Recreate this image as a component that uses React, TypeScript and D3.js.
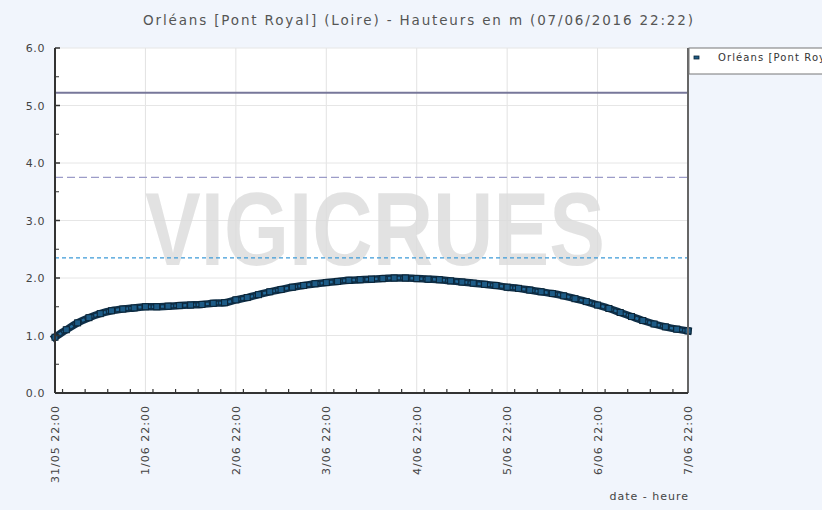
import React, { useEffect, useRef } from "react";
import * as d3 from "d3";

// Hauteurs relevées toutes les 3 heures à partir du 31/05 22:00
const START = new Date(2016, 4, 31, 22, 0);
const STEP_HOURS = 3;
const heights = [
  0.97, 1.1, 1.22, 1.31, 1.38, 1.43, 1.46, 1.48,
  1.5, 1.5, 1.51, 1.52, 1.53, 1.54, 1.56, 1.57,
  1.62, 1.66, 1.71, 1.76, 1.8, 1.84, 1.87, 1.9,
  1.92, 1.94, 1.96, 1.97, 1.98, 1.99, 2.0, 2.0,
  1.99, 1.98, 1.97, 1.95, 1.93, 1.91, 1.89, 1.87,
  1.84, 1.82, 1.79, 1.76, 1.73, 1.69, 1.64, 1.59,
  1.53, 1.47, 1.4, 1.33, 1.26, 1.2, 1.15, 1.11,
  1.08,
];

const yTicks = [0, 1, 2, 3, 4, 5, 6];
const yMinorTicks = [0.5, 1.5, 2.5, 3.5, 4.5, 5.5];
const dayLabels = [
  "31/05 22:00", "1/06 22:00", "2/06 22:00", "3/06 22:00",
  "4/06 22:00", "5/06 22:00", "6/06 22:00", "7/06 22:00",
];

// seuils horizontaux
const thresholds = [
  { value: 5.22, color: "#77779a", dash: null, width: 2 },
  { value: 3.75, color: "#9c9cc8", dash: "8,4", width: 1.2 },
  { value: 2.35, color: "#3d9ad8", dash: "4,3", width: 1.2 },
];

const title = "Orléans [Pont Royal] (Loire) - Hauteurs en m (07/06/2016 22:22)";
const legendLabel = "Orléans [Pont Royal] (Loire)";

const App = () => {
  const svgRef = useRef<SVGSVGElement>(null);

  useEffect(() => {
    const width = 822;
    const height = 510;
    const margin = { top: 48, right: 134, bottom: 117, left: 55 };

    const svg = d3.select(svgRef.current);
    svg.selectAll("*").remove();
    svg.attr("width", width).attr("height", height).style("font-family", "DejaVu Sans, sans-serif");

    svg.append("rect").attr("width", width).attr("height", height).attr("fill", "#f1f5fc");

    const data = heights.map((v, i) => ({
      date: d3.timeHour.offset(START, i * STEP_HOURS),
      value: v,
    }));
    const end = d3.timeDay.offset(START, 7);

    const x = d3.scaleTime().domain([START, end]).range([margin.left, width - margin.right]);
    const y = d3.scaleLinear().domain([0, 6]).range([height - margin.bottom, margin.top]);

    const [x0, x1] = x.range();
    const [y0, y1] = y.range();

    // zone de tracé
    svg.append("rect")
      .attr("x", x0).attr("y", y1)
      .attr("width", x1 - x0).attr("height", y0 - y1)
      .attr("fill", "#ffffff");

    // titre
    svg.append("text")
      .attr("x", 143).attr("y", 25)
      .attr("font-size", 13.5)
      .attr("textLength", 550)
      .attr("lengthAdjust", "spacing")
      .attr("fill", "#555")
      .text(title);

    // grille
    const days = d3.range(8).map((d) => d3.timeDay.offset(START, d));
    svg.append("g").selectAll("line.v").data(days).join("line")
      .attr("x1", (d) => x(d)).attr("x2", (d) => x(d))
      .attr("y1", y1).attr("y2", y0)
      .attr("stroke", "#e2e2e2").attr("stroke-width", 1);
    svg.append("g").selectAll("line.h").data(yTicks).join("line")
      .attr("x1", x0).attr("x2", x1)
      .attr("y1", (d) => y(d)).attr("y2", (d) => y(d))
      .attr("stroke", "#e6e6e6").attr("stroke-width", 1);

    // filigrane
    svg.append("text")
      .attr("x", 145).attr("y", 265)
      .attr("font-family", "Liberation Sans, Arial, sans-serif")
      .attr("font-weight", "bold")
      .attr("font-size", 104)
      .attr("textLength", 460)
      .attr("lengthAdjust", "spacingAndGlyphs")
      .attr("fill", "#dcdcdc")
      .attr("opacity", 0.8)
      .text("VIGICRUES");

    // seuils
    svg.append("g").selectAll("line").data(thresholds).join("line")
      .attr("x1", x0).attr("x2", x1)
      .attr("y1", (d) => y(d.value)).attr("y2", (d) => y(d.value))
      .attr("stroke", (d) => d.color)
      .attr("stroke-width", (d) => d.width)
      .attr("stroke-dasharray", (d) => d.dash);

    // série
    const line = d3.line<{ date: Date; value: number }>()
      .x((d) => x(d.date)).y((d) => y(d.value))
      .curve(d3.curveMonotoneX);
    svg.append("path").datum(data)
      .attr("d", line).attr("fill", "none")
      .attr("stroke", "#0e2f48").attr("stroke-width", 7.5)
      .attr("stroke-linecap", "square");
    svg.append("path").datum(data)
      .attr("d", line).attr("fill", "none")
      .attr("stroke", "#236a9a").attr("stroke-width", 2.5)
      .attr("stroke-dasharray", "3,1.5");
    svg.append("g").selectAll("rect").data(data).join("rect")
      .attr("x", (d) => x(d.date) - 3).attr("y", (d) => y(d.value) - 3)
      .attr("width", 6).attr("height", 6)
      .attr("fill", "#1d5b86").attr("stroke", "#0b2436").attr("stroke-width", 1);

    // axe Y
    const yAxis = svg.append("g");
    yAxis.append("line").attr("x1", x0).attr("x2", x0).attr("y1", y1).attr("y2", y0)
      .attr("stroke", "#333").attr("stroke-width", 2);
    yAxis.selectAll("line.t").data(yTicks).join("line")
      .attr("x1", x0).attr("x2", x0 + 5)
      .attr("y1", (d) => y(d)).attr("y2", (d) => y(d))
      .attr("stroke", "#333").attr("stroke-width", 1.5);
    yAxis.selectAll("line.m").data(yMinorTicks).join("line")
      .attr("x1", x0).attr("x2", x0 + 4)
      .attr("y1", (d) => y(d)).attr("y2", (d) => y(d))
      .attr("stroke", "#333").attr("stroke-width", 1);
    yAxis.selectAll("text").data(yTicks).join("text")
      .attr("x", 45).attr("y", (d) => y(d) + 4)
      .attr("text-anchor", "end")
      .attr("font-size", 11)
      .attr("letter-spacing", 0.6)
      .attr("fill", "#444")
      .text((d) => d3.format(".1f")(d));

    // bord droit
    svg.append("line").attr("x1", x1).attr("x2", x1).attr("y1", y1).attr("y2", y0)
      .attr("stroke", "#666").attr("stroke-width", 2);

    // axe X
    const xAxis = svg.append("g");
    xAxis.append("line").attr("x1", x0).attr("x2", x1).attr("y1", y0).attr("y2", y0)
      .attr("stroke", "#333").attr("stroke-width", 2);
    const minor = d3.timeHour.every(6)!.range(START, d3.timeHour.offset(end, 1));
    xAxis.selectAll("line.t").data(minor).join("line")
      .attr("x1", (d) => x(d)).attr("x2", (d) => x(d))
      .attr("y1", y0).attr("y2", (d) => y0 - ((+d - +START) % 86400000 === 0 ? 6 : 4))
      .attr("stroke", "#333").attr("stroke-width", 1.2);
    xAxis.selectAll("text").data(days).join("text")
      .attr("transform", (d) => `translate(${x(d) + 4},${y0 + 12}) rotate(-90)`)
      .attr("text-anchor", "end")
      .attr("font-size", 11)
      .attr("letter-spacing", 1)
      .attr("fill", "#444")
      .text((d, i) => dayLabels[i]);

    svg.append("text")
      .attr("x", x1 + 1).attr("y", 500)
      .attr("text-anchor", "end")
      .attr("font-size", 11)
      .attr("letter-spacing", 1)
      .attr("fill", "#444")
      .text("date - heure");

    // légende (coupée par le bord droit, comme l'original)
    const lg = svg.append("g");
    lg.append("rect").attr("x", x1 + 1).attr("y", 48).attr("width", 140).attr("height", 26)
      .attr("fill", "#ffffff").attr("stroke", "#777").attr("stroke-width", 1);
    lg.append("rect").attr("x", 694).attr("y", 56).attr("width", 5).attr("height", 3)
      .attr("fill", "#1d5b86").attr("stroke", "#0b2436").attr("stroke-width", 0.8);
    lg.append("text").attr("x", 718).attr("y", 61)
      .attr("font-size", 10)
      .attr("letter-spacing", 1.1)
      .attr("fill", "#333")
      .text(legendLabel);
  }, []);

  return <svg ref={svgRef} style={{ position: "absolute", left: 0, top: 0 }} />;
};

export default App;
